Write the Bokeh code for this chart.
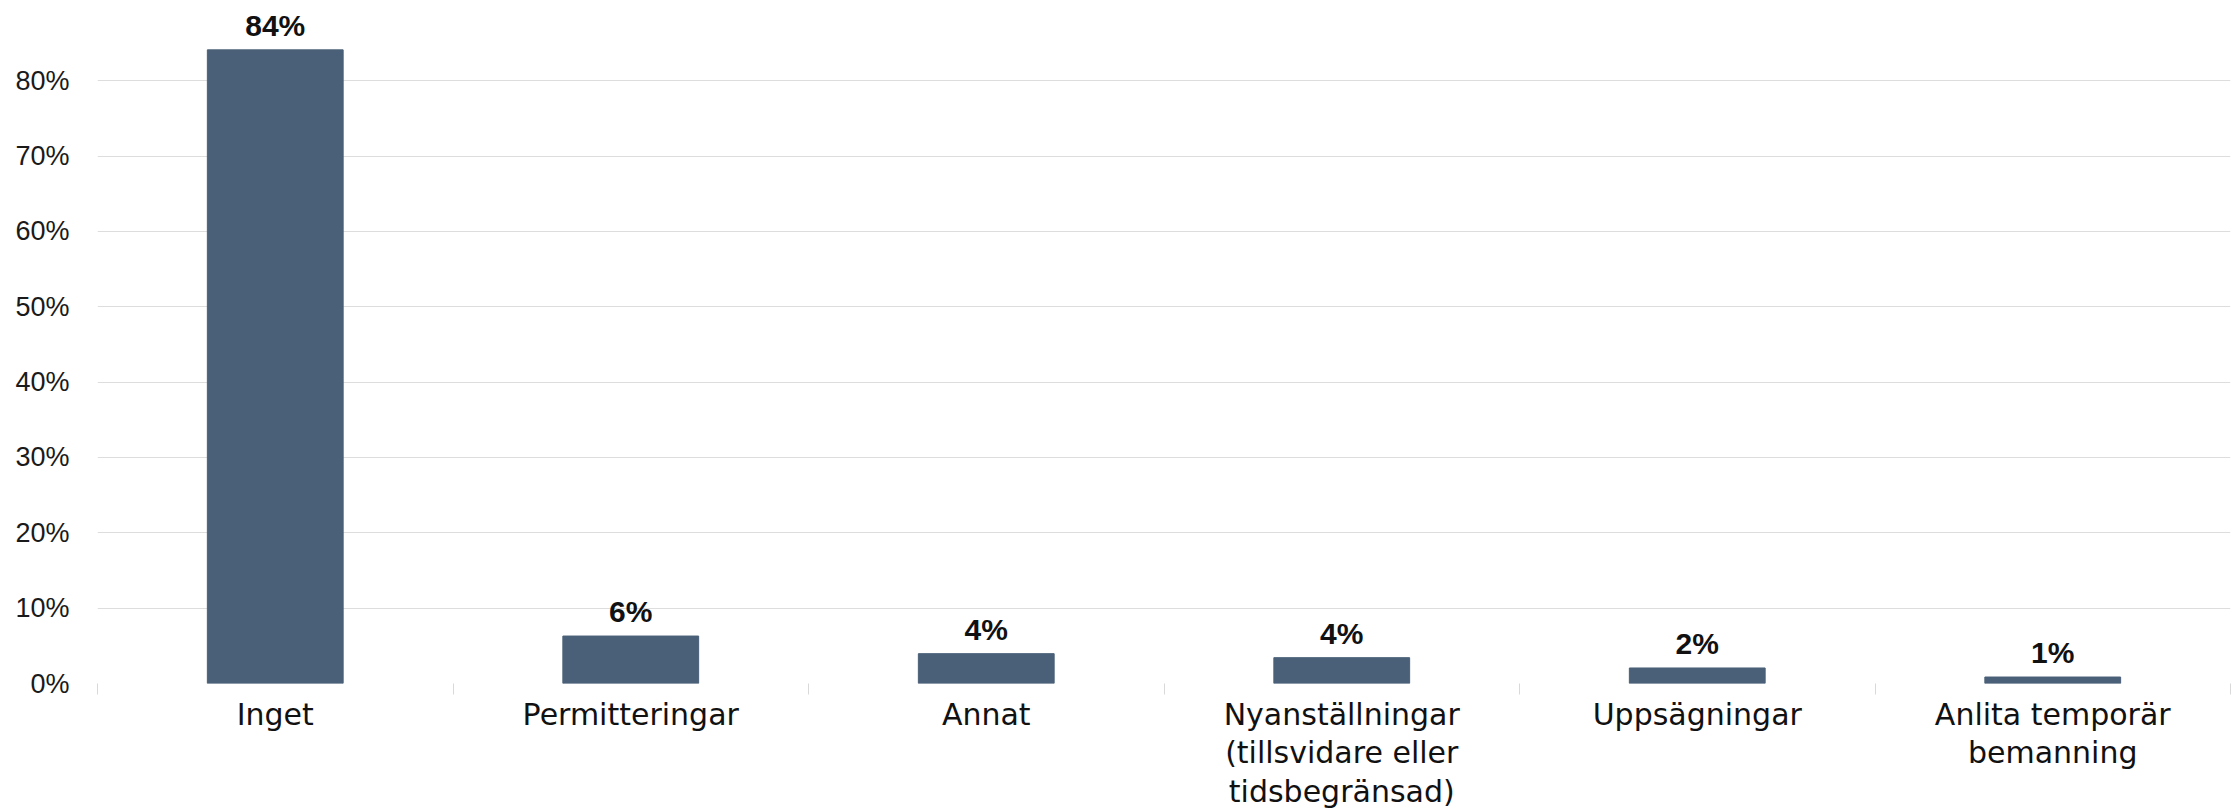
from bokeh.plotting import figure
from bokeh.models import ColumnDataSource, FixedTicker, Range1d, PrintfTickFormatter, LabelSet
from bokeh.core.properties import value
from bokeh.embed import file_html
from bokeh.resources import INLINE

# ---- data ----
categories = ["Inget", "Permitteringar", "Annat",
              "Nyanställningar (tillsvidare eller tidsbegränsad)",
              "Uppsägningar", "Anlita temporär bemanning"]
tick_labels = ["Inget", "Permitteringar", "Annat",
               "Nyanställningar\n(tillsvidare eller\ntidsbegränsad)",
               "Uppsägningar", "Anlita temporär\nbemanning"]
values = [84.1, 6.3, 3.96, 3.43, 2.06, 0.86]
value_labels = ["84%", "6%", "4%", "4%", "2%", "1%"]
y_ticks = [0, 10, 20, 30, 40, 50, 60, 70, 80]

FONT = "Liberation Sans"
CAT_FONT = "DejaVu Sans"
BAR = "#4a6078"

centers = [i + 0.5 for i in range(len(categories))]
boundaries = list(range(len(categories) + 1))

src = ColumnDataSource(dict(x=centers, v=values, lab=value_labels, cat=categories))

p = figure(width=2234, height=811,
           x_range=Range1d(0, len(categories)), y_range=Range1d(0, 90.65),
           output_backend="svg", toolbar_location=None,
           min_border_left=97, min_border_right=4, min_border_top=0, min_border_bottom=128)

p.vbar(x="x", top="v", width=0.382, source=src, fill_color=BAR, line_color=BAR)

labels = LabelSet(x="x", y="v", text="lab", source=src, text_align="center",
                  text_baseline="alphabetic", y_offset=14,
                  text_font=value(FONT), text_font_style="bold", text_font_size="30px",
                  text_color="#111111")
p.add_layout(labels)

# x axis
xa = p.xaxis[0]
xa.ticker = FixedTicker(ticks=centers, minor_ticks=boundaries)
xa.major_label_overrides = {c: t for c, t in zip(centers, tick_labels)}
xa.axis_line_color = None
xa.major_tick_line_color = None
xa.major_tick_out = 0
xa.major_tick_in = 0
xa.minor_tick_line_color = "#d9d9d9"
xa.minor_tick_line_width = 1
xa.minor_tick_out = 11
xa.minor_tick_in = 0
xa.major_label_text_font = CAT_FONT
xa.major_label_text_font_size = "30px"
xa.major_label_text_line_height = 1.1
xa.major_label_text_color = "#111111"
xa.major_label_standoff = 2

# y axis
ya = p.yaxis[0]
ya.ticker = FixedTicker(ticks=y_ticks)
ya.formatter = PrintfTickFormatter(format="%d%%")
ya.axis_line_color = None
ya.major_tick_line_color = None
ya.major_tick_out = 0
ya.major_tick_in = 0
ya.minor_tick_line_color = None
ya.major_label_text_font = FONT
ya.major_label_text_font_size = "27px"
ya.major_label_text_color = "#1a1a1a"
ya.major_label_standoff = 28

p.xgrid.grid_line_color = None
p.ygrid.ticker = FixedTicker(ticks=y_ticks)
p.ygrid.grid_line_color = "#dddddd"
p.ygrid.grid_line_width = 1
p.outline_line_color = None
p.background_fill_color = "white"
p.border_fill_color = "white"

open("out.html", "w").write(file_html(p, INLINE))
